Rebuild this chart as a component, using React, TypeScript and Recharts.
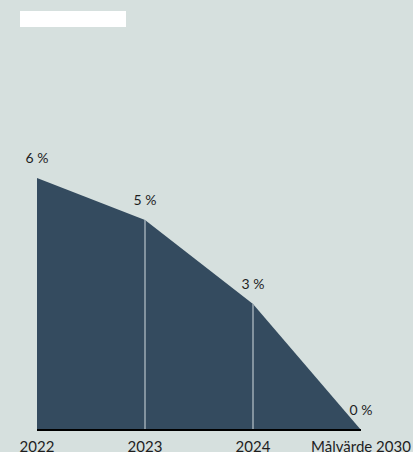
import { AreaChart, Area, XAxis, YAxis, LabelList, ReferenceLine } from "recharts";

const categories = ["2022", "2023", "2024", "Målvärde 2030"];
const shares = [6, 5, 3, 0];
// inner dividers drop from these points down to the baseline
const dividers = ["2023", "2024"];

const BG = "#d6e0de";
const FILL = "#344b5f";
const DIVIDER = "#9eabb5";
const TEXT = "#1e1e1e";
const FONT = "Lato, 'Noto Sans', sans-serif";

const data = categories.map((c, i) => ({ year: c, share: shares[i] }));

function YearTick({ x, y, payload }: any) {
    return (
        <text x={x} y={y} dy={14} textAnchor="middle" fontSize={15} fill={TEXT} fontFamily={FONT}>
            {payload.value}
        </text>
    );
}

export default function App() {
    return (
        <div style={{ position: "absolute", left: 0, top: 0, width: 413, height: 452, background: BG, overflow: "hidden" }}>
            <div style={{ position: "absolute", left: 20, top: 11, width: 106, height: 16, background: "#ffffff" }} />
            <AreaChart width={413} height={452} data={data} margin={{ top: 10, right: 52, bottom: 2, left: 37 }}>
                <YAxis hide domain={[0, 10]} />
                <XAxis
                    dataKey="year"
                    height={20}
                    axisLine={{ stroke: "#000", strokeWidth: 2 }}
                    tickLine={false}
                    tick={<YearTick />}
                    interval={0}
                />
                <Area
                    type="linear"
                    dataKey="share"
                    stroke="none"
                    fill={FILL}
                    fillOpacity={1}
                    dot={false}
                    activeDot={false}
                    isAnimationActive={false}
                >
                    <LabelList
                        dataKey="share"
                        position="top"
                        offset={15}
                        formatter={(v: any) => `${v} %`}
                        style={{ fontSize: 14, fill: TEXT, fontFamily: FONT }}
                    />
                </Area>
                {dividers.map((d) => (
                    <ReferenceLine
                        key={d}
                        segment={[
                            { x: d, y: 0 },
                            { x: d, y: shares[categories.indexOf(d)] },
                        ]}
                        stroke={DIVIDER}
                        strokeWidth={1.5}
                    />
                ))}
            </AreaChart>
        </div>
    );
}
